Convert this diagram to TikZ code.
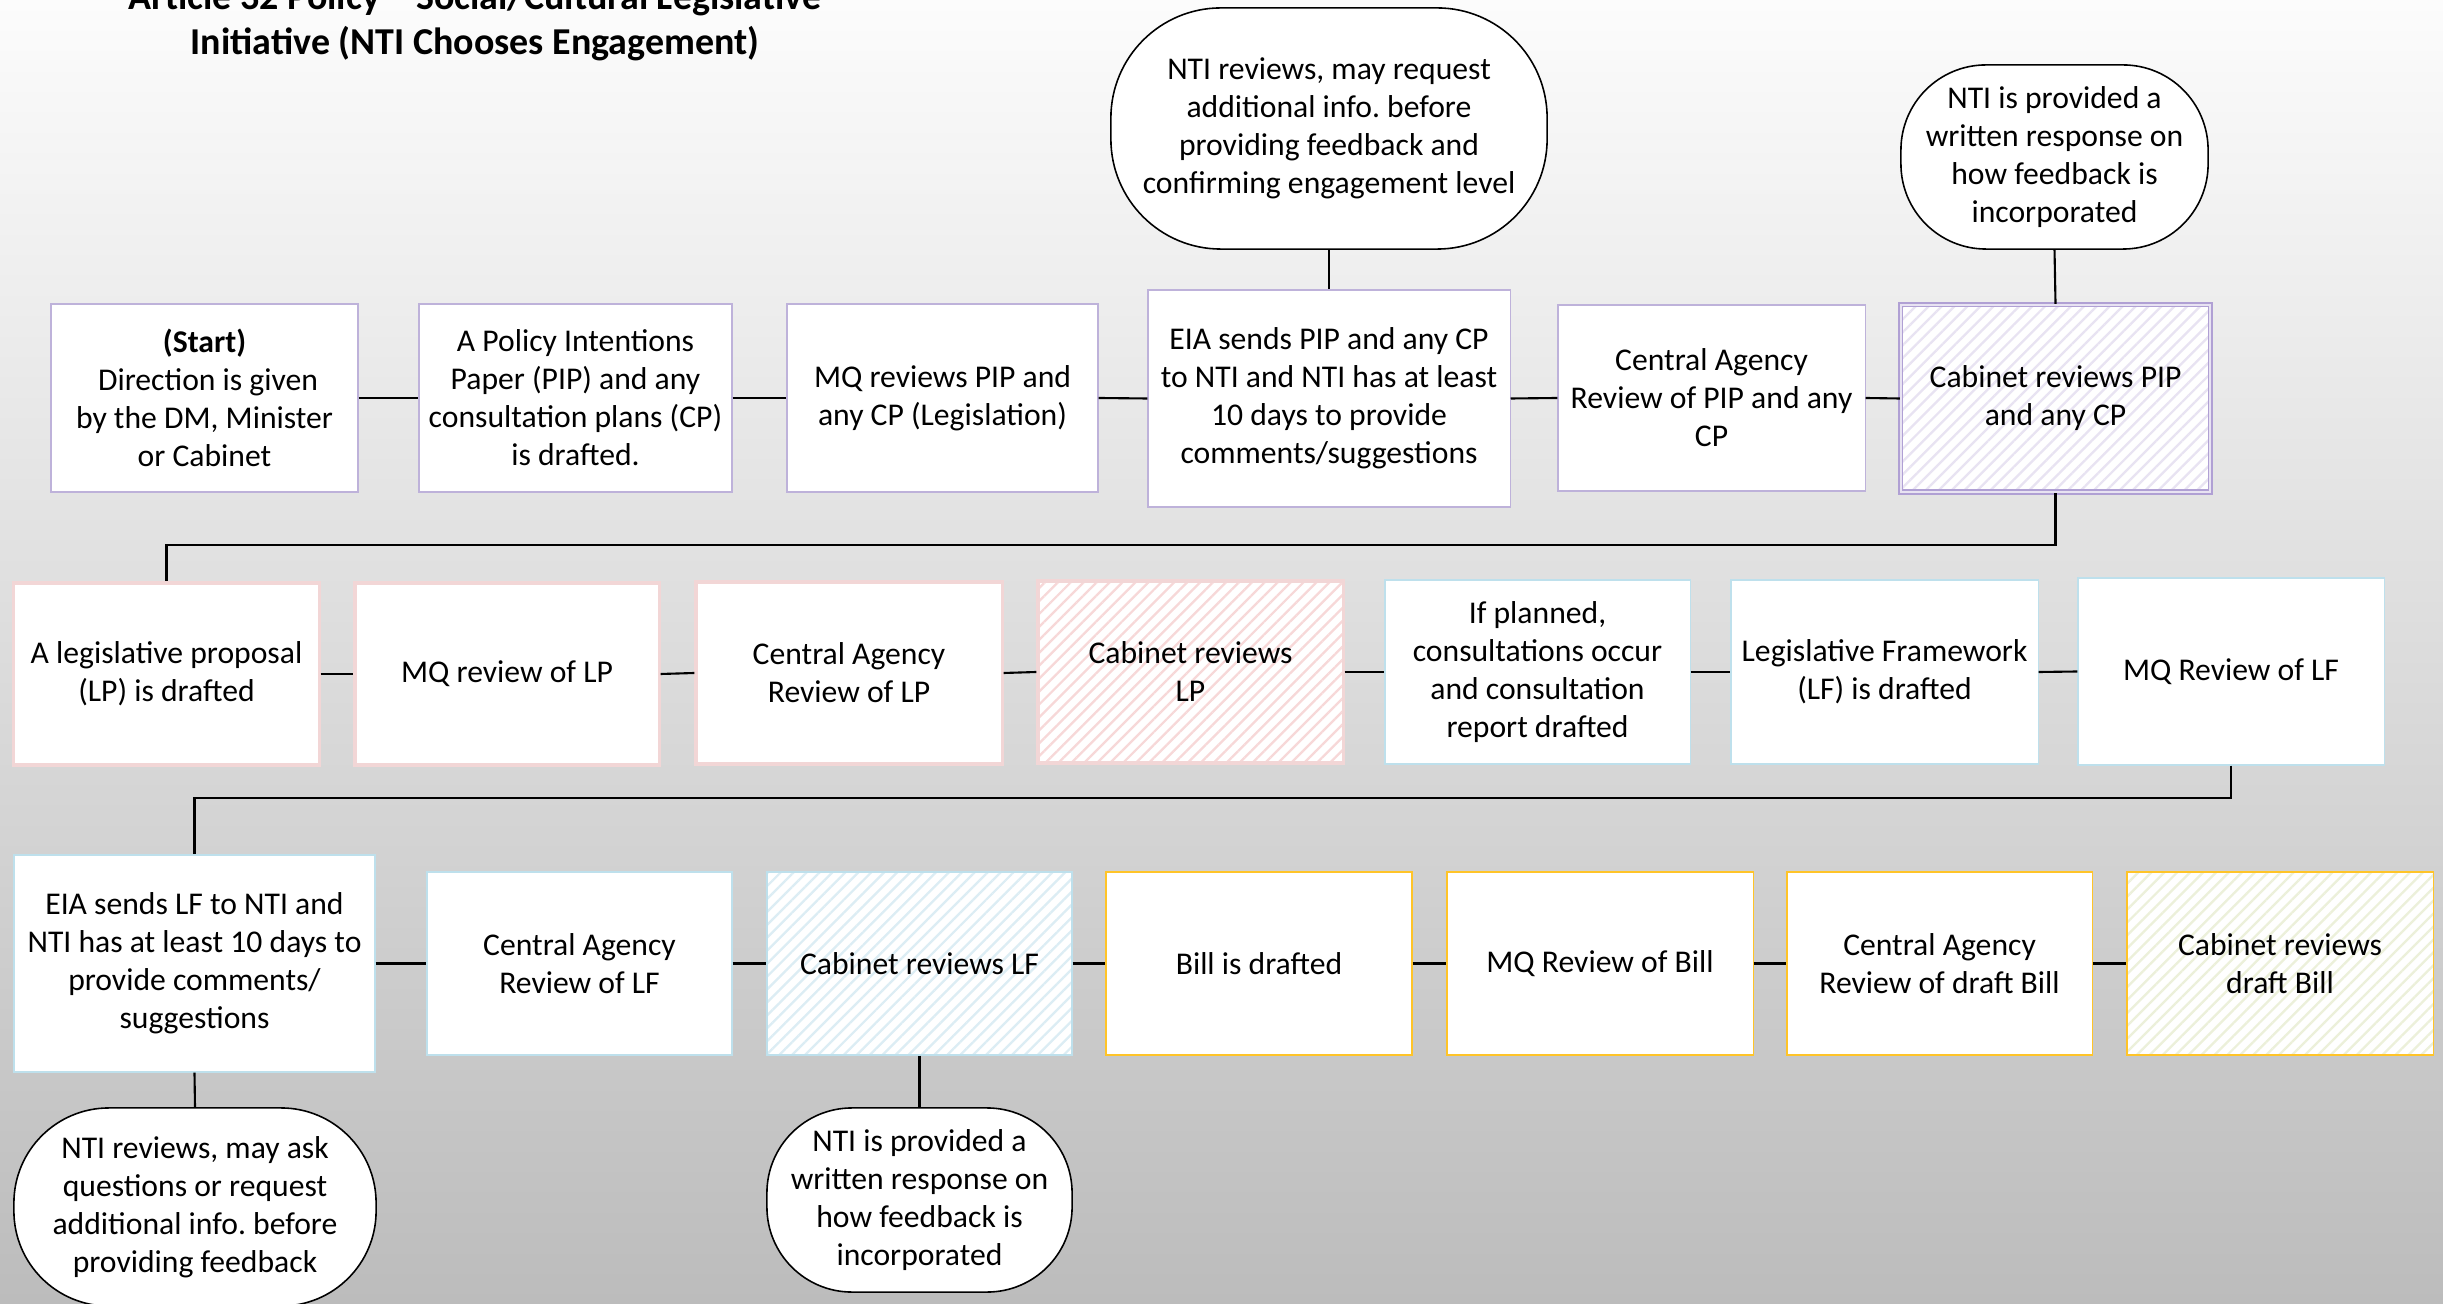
\documentclass[tikz,border=0pt]{standalone}
\usepackage{fontspec}
\setmainfont{Carlito}
\frenchspacing
\usetikzlibrary{patterns.meta}
\definecolor{bdpurple}{RGB}{190,178,218}
\definecolor{bdpurpledk}{RGB}{176,160,212}
\definecolor{bdpink}{RGB}{242,214,214}
\definecolor{bdblue}{RGB}{190,224,236}
\definecolor{bdyellow}{RGB}{255,196,40}
\definecolor{htpurple}{RGB}{232,227,242}
\definecolor{htpink}{RGB}{247,216,216}
\definecolor{htblue}{RGB}{220,237,244}
\definecolor{htyellow}{RGB}{236,240,218}
\definecolor{bgtop}{RGB}{252,252,252}
\definecolor{bgbot}{RGB}{188,188,188}
\begin{document}
\begin{tikzpicture}[x=0.01cm,y=-0.01cm,
  base/.style={rectangle, fill=white, align=center, inner sep=0pt,
    font=\fontsize{9}{10.8}\selectfont, text=black},
  boxp/.style={base, draw=bdpurple, line width=0.35pt},
  boxpk/.style={base, draw=bdpink, line width=0.9pt},
  boxb/.style={base, draw=bdblue, line width=0.35pt},
  boxy/.style={base, draw=bdyellow, line width=0.35pt},
  hatch/.style={preaction={fill=white}, pattern={Lines[angle=45,distance=2.6pt,line width=0.65pt]}, pattern color=#1},
  bubble/.style={base, draw=black, line width=0.45pt},
  conn/.style={draw=black, line width=0.6pt},
  title/.style={align=center, font=\fontsize{10.8}{12.6}\selectfont\bfseries, text=black}
]
\useasboundingbox (0,0) rectangle (2443,1304);
\shade[top color=bgtop, bottom color=bgbot] (0,0) rectangle (2443,1304);

% title
\node[title] (ttl) at (475,22) {Article 32 Policy -- Social/Cultural Legislative\\Initiative (NTI Chooses Engagement)};

% row 1
\node[boxp, minimum width=30.7mm, minimum height=18.8mm] (s1) at (204.5,398)
  {\textbf{(Start)}\\\ Direction is given\\by the DM, Minister\\or Cabinet};
\node[boxp, minimum width=31.3mm, minimum height=18.8mm] (s2) at (575.5,398)
  {A Policy Intentions\\Paper (PIP) and any\\consultation plans (CP)\\is drafted.};
\node[boxp, minimum width=31.1mm, minimum height=18.8mm] (s3) at (942.5,398)
  {MQ reviews PIP and\\any CP (Legislation)};
\node[boxp, minimum width=36.2mm, minimum height=21.7mm] (s4) at (1329,398.5)
  {EIA sends PIP and any CP\\to NTI and NTI has at least\\10 days to provide\\comments/suggestions};
\node[boxp, minimum width=30.7mm, minimum height=18.6mm] (s5) at (1711.5,398)
  {Central Agency\\Review of PIP and any\\CP};
\node[base, minimum width=30.9mm, minimum height=18.7mm, draw=bdpurpledk, double=htpurple, line width=0.45pt, double distance=0.55pt, hatch=htpurple] (s6) at (2055.5,398.5)
  {Cabinet reviews PIP\\and any CP};

% top bubbles
\node[bubble, minimum width=43.6mm, minimum height=24.1mm, rounded corners=11mm] (b1) at (1329,128.5)
  {NTI reviews, may request\\additional info. before\\providing feedback and\\confirming engagement level};
\node[bubble, minimum width=30.7mm, minimum height=18.4mm, rounded corners=8.5mm] (b2) at (2054.5,157)
  {NTI is provided a\\written response on\\how feedback is\\incorporated};

% row 2
\node[boxpk, minimum width=30.5mm, minimum height=18.2mm] (r1) at (166.5,674)
  {A legislative proposal\\(LP) is drafted};
\node[boxpk, minimum width=30.4mm, minimum height=18.2mm] (r2) at (507,674)
  {MQ review of LP};
\node[boxpk, minimum width=30.6mm, minimum height=18.2mm] (r3) at (849,673)
  {Central Agency\\Review of LP};
\node[boxpk, minimum width=30.5mm, minimum height=18.2mm, hatch=htpink] (r4) at (1190.5,672)
  {Cabinet reviews\\LP};
\node[boxb, minimum width=30.5mm, minimum height=18.4mm] (r5) at (1537.5,672)
  {If planned,\\consultations occur\\and consultation\\report drafted};
\node[boxb, minimum width=30.7mm, minimum height=18.4mm] (r6) at (1884.5,672)
  {Legislative Framework\\(LF) is drafted};
\node[boxb, minimum width=30.6mm, minimum height=18.7mm] (r7) at (2231,671.5)
  {MQ Review of LF};

% row 3
\node[boxb, minimum width=36.1mm, minimum height=21.7mm] (t1) at (194.5,963.5)
  {EIA sends LF to NTI and\\NTI has at least 10 days to\\provide comments/\\suggestions};
\node[boxb, minimum width=30.5mm, minimum height=18.3mm] (t2) at (579.5,963.5)
  {Central Agency\\Review of LF};
\node[boxb, minimum width=30.5mm, minimum height=18.3mm, hatch=htblue] (t3) at (919.5,963.5)
  {Cabinet reviews LF};
\node[boxy, minimum width=30.6mm, minimum height=18.3mm] (t4) at (1259,963.5)
  {Bill is drafted};
\node[boxy, minimum width=30.6mm, minimum height=18.3mm] (t5) at (1600,963.5)
  {MQ Review of Bill};
\node[boxy, minimum width=30.5mm, minimum height=18.3mm] (t6) at (1939.5,963.5)
  {Central Agency\\Review of draft Bill};
\node[boxy, minimum width=30.6mm, minimum height=18.3mm, hatch=htyellow] (t7) at (2280,963.5)
  {Cabinet reviews\\draft Bill};

% bottom bubbles
\node[bubble, minimum width=36.2mm, minimum height=19.8mm, rounded corners=9.5mm] (u1) at (195,1207)
  {NTI reviews, may ask\\questions or request\\additional info. before\\providing feedback};
\node[bubble, minimum width=30.5mm, minimum height=18.4mm, rounded corners=8.5mm] (u2) at (919.5,1200)
  {NTI is provided a\\written response on\\how feedback is\\incorporated};

% junction coordinates
\coordinate (j1) at (0,545);
\coordinate (j2) at (0,798);

% connectors
\draw[conn] (b1.south) -- (s4.north);
\draw[conn] (b2.south) -- (s6.north);
\draw[conn] (s1.east) -- (s2.west);
\draw[conn] (s2.east) -- (s3.west);
\draw[conn] (s3.east) -- (s4.west);
\draw[conn] (s4.east) -- (s5.west);
\draw[conn] (s5.east) -- (s6.west);
\draw[conn] (s6.south) |- (j1 -| r1.north) -- (r1.north);
\draw[conn] (r1.east) -- (r2.west);
\draw[conn] (r2.east) -- (r3.west);
\draw[conn] (r3.east) -- (r4.west);
\draw[conn] (r4.east) -- (r5.west);
\draw[conn] (r5.east) -- (r6.west);
\draw[conn] (r6.east) -- (r7.west);
\draw[conn] (r7.south) |- (j2 -| t1.north) -- (t1.north);
\draw[conn] (t1.east) -- (t2.west);
\draw[conn] (t2.east) -- (t3.west);
\draw[conn] (t3.east) -- (t4.west);
\draw[conn] (t4.east) -- (t5.west);
\draw[conn] (t5.east) -- (t6.west);
\draw[conn] (t6.east) -- (t7.west);
\draw[conn] (t1.south) -- (u1.north);
\draw[conn] (t3.south) -- (u2.north);
\end{tikzpicture}
\end{document}
